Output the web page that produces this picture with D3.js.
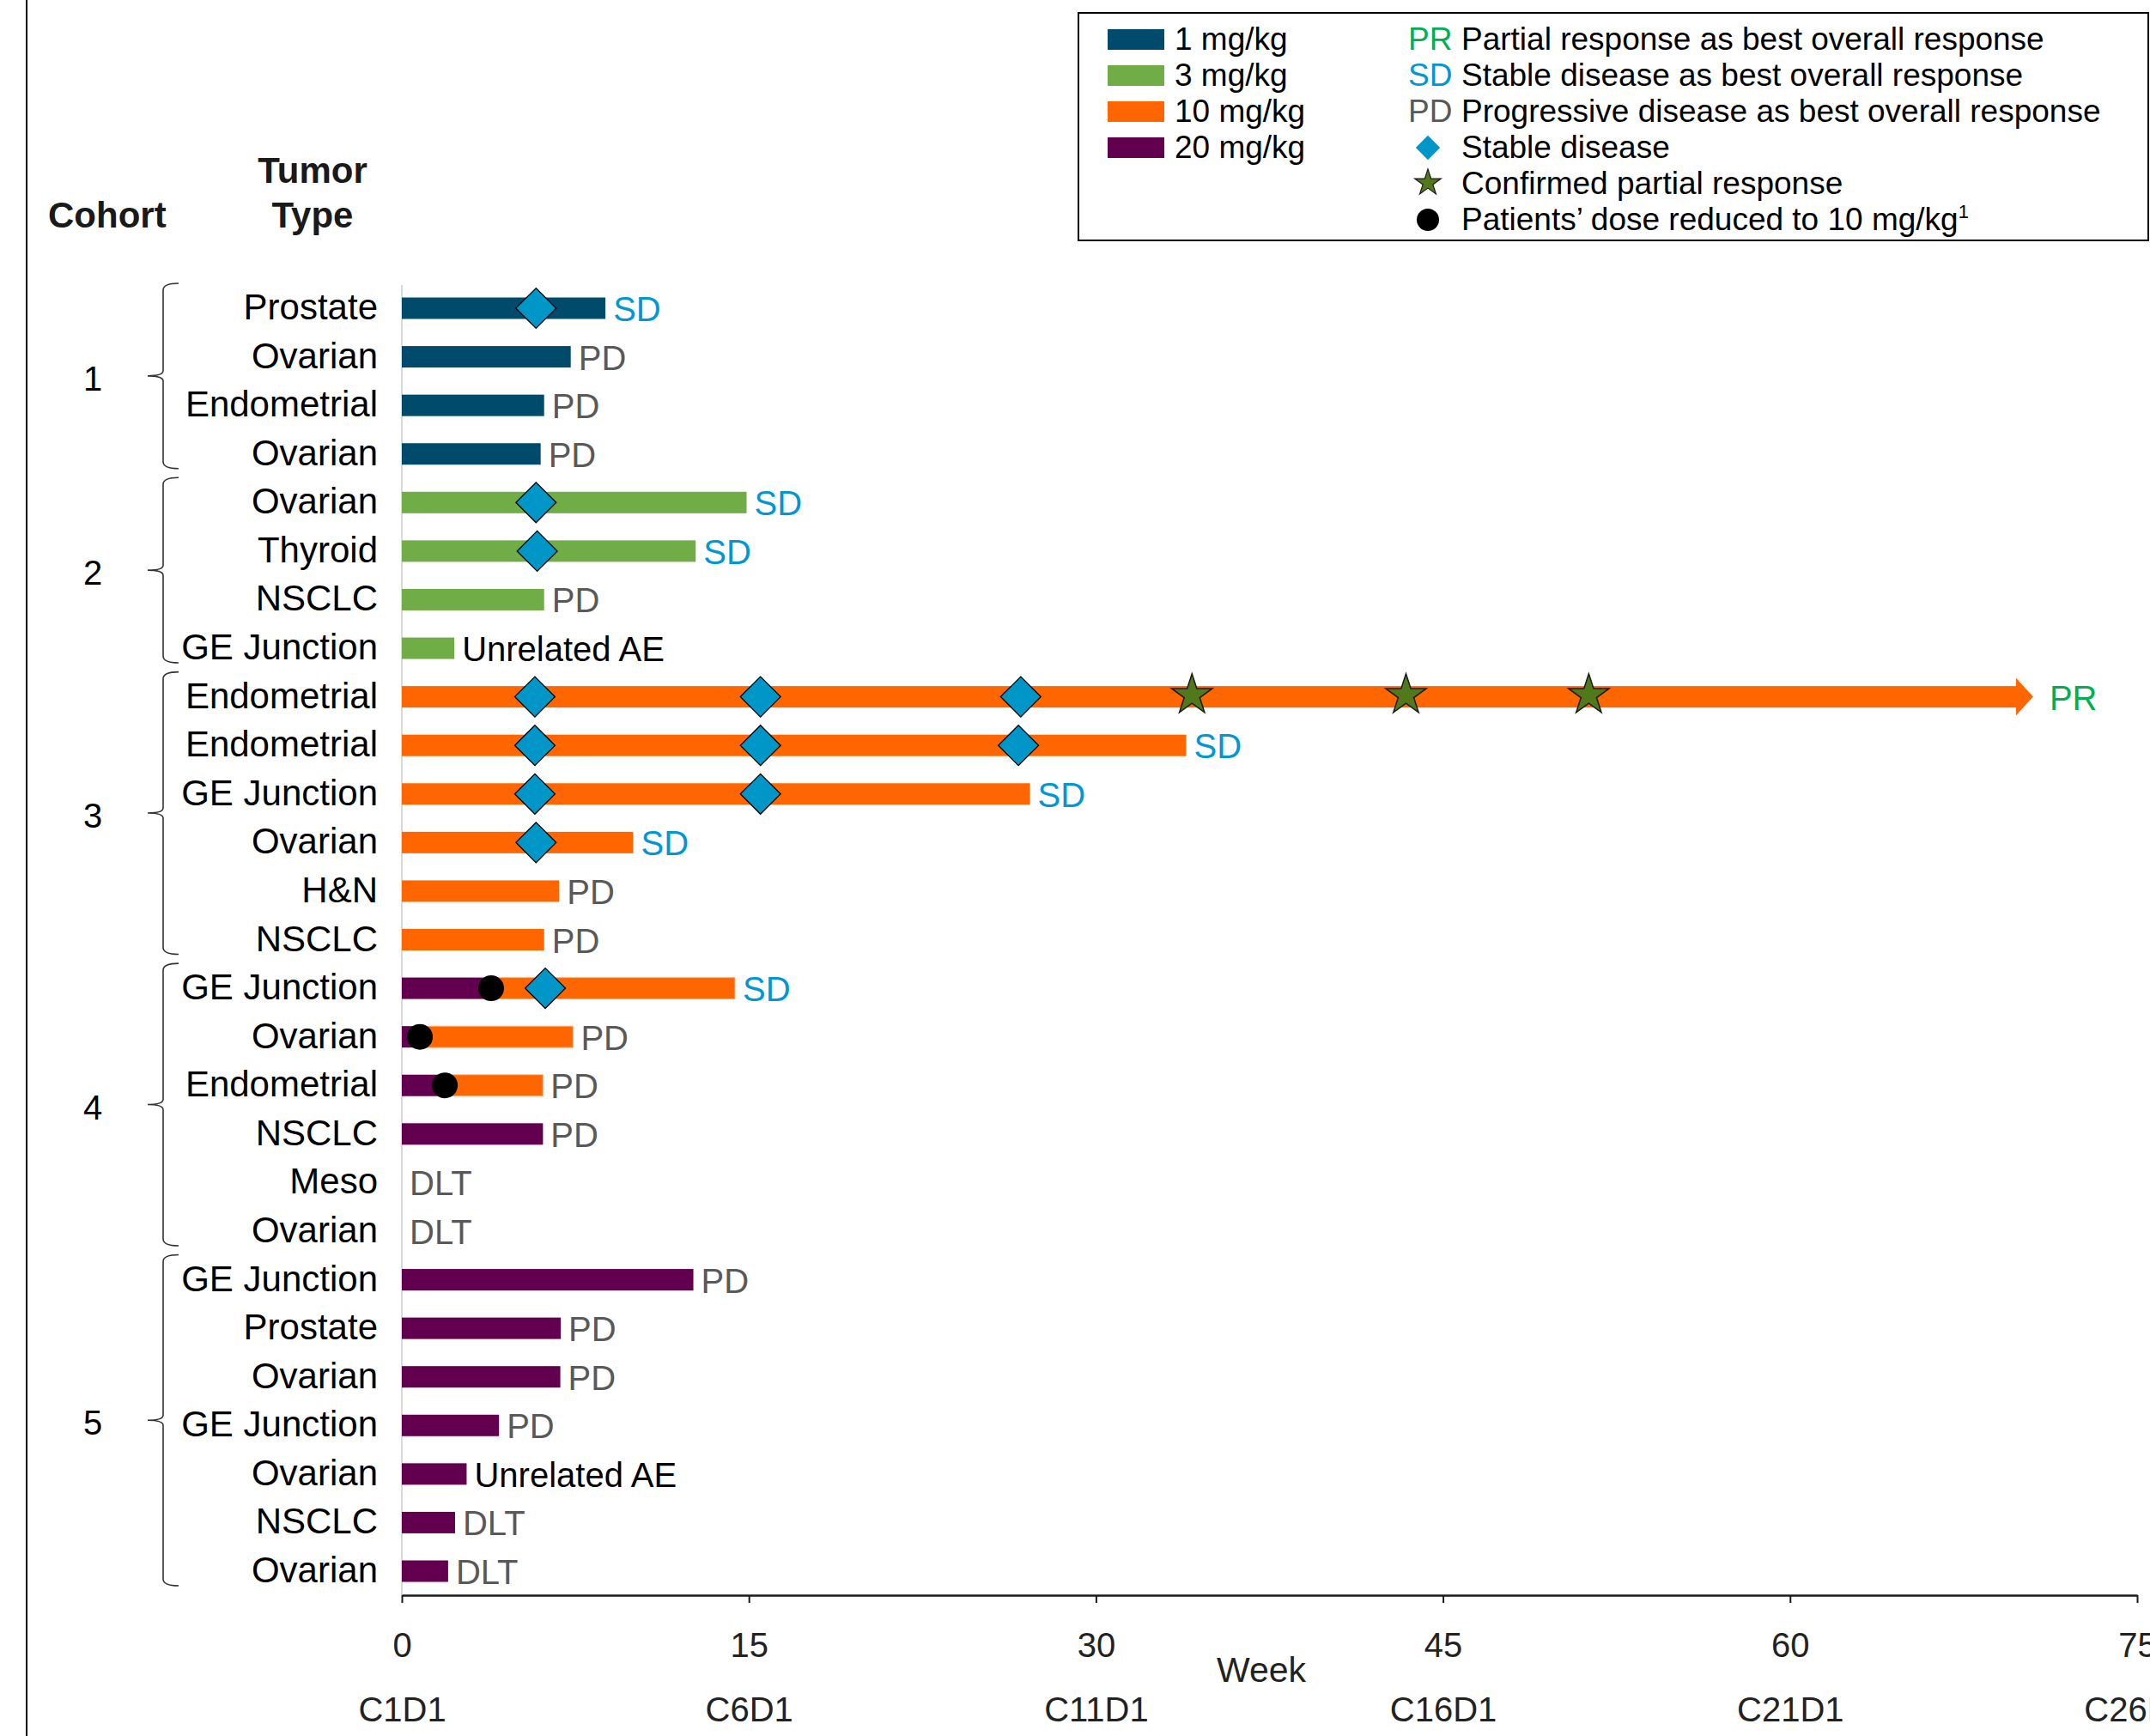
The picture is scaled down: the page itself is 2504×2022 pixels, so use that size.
<!DOCTYPE html>
<html>
<head>
<meta charset="utf-8">
<script src="https://cdn.jsdelivr.net/npm/d3@7"></script>
<style>
  body { margin: 0; background: #fff; }
  svg { display: block; font-family: "Liberation Sans", Arial, sans-serif; }
</style>
</head>
<body>
<svg id="swimmer" width="2504" height="2022"></svg>
<script>
// one entry per patient, top to bottom
const tumorTypes = ["Prostate", "Ovarian", "Endometrial", "Ovarian",
    "Ovarian", "Thyroid", "NSCLC", "GE Junction",
    "Endometrial", "Endometrial", "GE Junction", "Ovarian", "H&N", "NSCLC",
    "GE Junction", "Ovarian", "Endometrial", "NSCLC", "Meso", "Ovarian",
    "GE Junction", "Prostate", "Ovarian", "GE Junction", "Ovarian", "NSCLC", "Ovarian"];
const cohortIds = [1, 1, 1, 1, 2, 2, 2, 2, 3, 3, 3, 3, 3, 3, 4, 4, 4, 4, 4, 4, 5, 5, 5, 5, 5, 5, 5];
const startDose = ["1 mg/kg", "1 mg/kg", "1 mg/kg", "1 mg/kg",
    "3 mg/kg", "3 mg/kg", "3 mg/kg", "3 mg/kg",
    "10 mg/kg", "10 mg/kg", "10 mg/kg", "10 mg/kg", "10 mg/kg", "10 mg/kg",
    "20 mg/kg", "20 mg/kg", "20 mg/kg", "20 mg/kg", "20 mg/kg", "20 mg/kg",
    "20 mg/kg", "20 mg/kg", "20 mg/kg", "20 mg/kg", "20 mg/kg", "20 mg/kg", "20 mg/kg"];
const weeksOnTreatment = [8.8, 7.3, 6.15, 6.0,
    14.9, 12.7, 6.15, 2.27,
    69.8, 33.9, 27.15, 10.0, 6.8, 6.15,
    14.4, 7.4, 6.1, 6.1, 0, 0,
    12.6, 6.87, 6.85, 4.2, 2.8, 2.3, 2.0];
const doseReducedWeek = [null, null, null, null, null, null, null, null, null, null, null, null, null, null,
    3.86, 0.78, 1.86, null, null, null, null, null, null, null, null, null, null];
const bestResponse = ["SD", "PD", "PD", "PD",
    "SD", "SD", "PD", "Unrelated AE",
    "PR", "SD", "SD", "SD", "PD", "PD",
    "SD", "PD", "PD", "PD", "DLT", "DLT",
    "PD", "PD", "PD", "PD", "Unrelated AE", "DLT", "DLT"];
const ongoingRows = [8];

// [row, week]
const stableDiseaseEvents = [[0, 5.8], [4, 5.8], [5, 5.85],
    [8, 5.75], [8, 15.5], [8, 26.75], [9, 5.75], [9, 15.5], [9, 26.65],
    [10, 5.75], [10, 15.5], [11, 5.8], [14, 6.2]];
const partialResponseEvents = [[8, 34.15], [8, 43.4], [8, 51.3]];

const weekTicks = [0, 15, 30, 45, 60, 75];
const cycleLabels = ["C1D1", "C6D1", "C11D1", "C16D1", "C21D1", "C26D1"];

const doseLevels = ["1 mg/kg", "3 mg/kg", "10 mg/kg", "20 mg/kg"];
const doseColors = ["#004b6b", "#70ad47", "#ff6600", "#62004f"];
const responseCodes = ["PR", "SD", "PD"];
const responseNames = ["Partial response as best overall response",
    "Stable disease as best overall response",
    "Progressive disease as best overall response"];
const responseColors = {PR: "#00b050", SD: "#0097d3", PD: "#595959", DLT: "#595959", "Unrelated AE": "#000"};

const svg = d3.select("#swimmer");

const x = d3.scaleLinear().domain([0, 75]).range([468, 2489]);
const y = d3.scalePoint().domain(d3.range(tumorTypes.length)).range([359, 1830]);
const color = d3.scaleOrdinal().domain(doseLevels).range(doseColors);
const barH = 25;

const rows = tumorTypes.map((t, i) => ({
    i: i, tumor: t, cohort: cohortIds[i], dose: startDose[i], weeks: weeksOnTreatment[i],
    reduced: doseReducedWeek[i], response: bestResponse[i], ongoing: ongoingRows.includes(i)
}));

// page frame line on the left
svg.append("line").attr("x1", 31).attr("x2", 31).attr("y1", 0).attr("y2", 2022)
    .attr("stroke", "#000").attr("stroke-width", 2);

// headers
svg.append("text").attr("x", 56).attr("y", 265).attr("font-size", 42).attr("font-weight", "bold")
    .attr("fill", "#1a1a1a").text("Cohort");
svg.append("text").attr("x", 364).attr("y", 213).attr("font-size", 42).attr("font-weight", "bold")
    .attr("text-anchor", "middle").attr("fill", "#1a1a1a").text("Tumor");
svg.append("text").attr("x", 364).attr("y", 265).attr("font-size", 42).attr("font-weight", "bold")
    .attr("text-anchor", "middle").attr("fill", "#1a1a1a").text("Type");

// light vertical baseline
svg.append("line").attr("x1", x(0)).attr("x2", x(0)).attr("y1", 332).attr("y2", 1858)
    .attr("stroke", "#d9d9d9").attr("stroke-width", 2);

// x axis
const axis = svg.append("g").attr("transform", "translate(0,1858)")
    .call(d3.axisBottom(x).tickValues(weekTicks).tickSize(9).tickSizeOuter(0).tickPadding(35));
axis.select(".domain").attr("stroke", "#1a1a1a").attr("stroke-width", 2.5);
axis.selectAll(".tick line").attr("stroke", "#1a1a1a").attr("stroke-width", 2);
axis.selectAll(".tick text").attr("font-size", 40).attr("fill", "#222");
axis.attr("font-family", null);

const cycleAxis = svg.append("g").attr("transform", "translate(0,1858)")
    .call(d3.axisBottom(x).tickValues(weekTicks).tickFormat((d, i) => cycleLabels[i]).tickSize(0).tickPadding(119));
cycleAxis.select(".domain").remove();
cycleAxis.attr("font-family", null);
cycleAxis.selectAll(".tick text").attr("font-size", 40).attr("fill", "#222");

svg.append("text").attr("x", 1469).attr("y", 1959).attr("font-size", 41).attr("text-anchor", "middle")
    .attr("fill", "#222").text("Week");

// row labels
svg.append("g").selectAll("text").data(rows).join("text")
    .attr("x", 440).attr("y", d => y(d.i) + 13)
    .attr("text-anchor", "end").attr("font-size", 42).attr("fill", "#000")
    .text(d => d.tumor);

// cohort braces
const cohorts = d3.groups(rows, d => d.cohort).map(([c, rs]) => {
    const top = y(rs[0].i) - 29, bot = y(rs[rs.length - 1].i) + 17;
    return {cohort: c, top: top, bot: bot, mid: (top + bot) / 2};
});
const braceG = svg.append("g");
braceG.selectAll("path").data(cohorts).join("path")
    .attr("d", d => `M208,${d.top} Q190,${d.top} 190,${d.top + 8} L190,${d.mid - 6} Q190,${d.mid} 172,${d.mid}`
        + ` Q190,${d.mid} 190,${d.mid + 6} L190,${d.bot - 8} Q190,${d.bot} 208,${d.bot}`)
    .attr("fill", "none").attr("stroke", "#333").attr("stroke-width", 1.6);
braceG.selectAll("text").data(cohorts).join("text")
    .attr("x", 108).attr("y", d => d.mid + 17).attr("text-anchor", "middle")
    .attr("font-size", 40).attr("fill", "#000").text(d => d.cohort);

// bars
const barG = svg.append("g");
barG.selectAll("rect.start").data(rows.filter(d => d.weeks > 0)).join("rect")
    .attr("class", "start")
    .attr("x", x(0)).attr("y", d => y(d.i) - barH / 2)
    .attr("width", d => x(d.reduced != null ? d.reduced : d.weeks) - x(0))
    .attr("height", barH)
    .attr("fill", d => color(d.dose));
barG.selectAll("rect.reduced").data(rows.filter(d => d.reduced != null)).join("rect")
    .attr("class", "reduced")
    .attr("x", d => x(d.reduced)).attr("y", d => y(d.i) - barH / 2)
    .attr("width", d => x(d.weeks) - x(d.reduced))
    .attr("height", barH)
    .attr("fill", color("10 mg/kg")).attr("stroke", "#ffb98a").attr("stroke-width", 1);
barG.selectAll("path.arrow").data(rows.filter(d => d.ongoing)).join("path")
    .attr("class", "arrow")
    .attr("d", d => `M${x(d.weeks) - 1},${y(d.i) - 22} L${x(d.weeks) + 19},${y(d.i)} L${x(d.weeks) - 1},${y(d.i) + 22} Z`)
    .attr("fill", d => color(d.dose));

// markers
const markG = svg.append("g");
markG.selectAll("path.sd").data(stableDiseaseEvents).join("path")
    .attr("class", "sd")
    .attr("d", d3.symbol(d3.symbolSquare, 1100))
    .attr("transform", d => `translate(${x(d[1])},${y(d[0])}) rotate(45)`)
    .attr("fill", "#0096c8").attr("stroke", "#000").attr("stroke-width", 1.3);
markG.selectAll("path.pr").data(partialResponseEvents).join("path")
    .attr("class", "pr")
    .attr("d", d3.symbol(d3.symbolStar, 700))
    .attr("transform", d => `translate(${x(d[1])},${y(d[0]) - 2})`)
    .attr("fill", "#52781c").attr("stroke", "#1a1a1a").attr("stroke-width", 1.5);
markG.selectAll("circle").data(rows.filter(d => d.reduced != null)).join("circle")
    .attr("cx", d => x(d.reduced)).attr("cy", d => y(d.i)).attr("r", 15)
    .attr("fill", "#000");

// response labels
svg.append("g").selectAll("text").data(rows).join("text")
    .attr("x", d => x(d.weeks) + (d.ongoing ? 38 : 9))
    .attr("y", d => y(d.i) + 15)
    .attr("font-size", 40)
    .attr("fill", d => responseColors[d.response])
    .text(d => d.response);

// legend
const legend = svg.append("g");
legend.append("rect").attr("x", 1256).attr("y", 15).attr("width", 1246).attr("height", 265)
    .attr("fill", "#fff").attr("stroke", "#000").attr("stroke-width", 2);
const legRow = k => 46 + k * 42;

legend.selectAll("rect.sw").data(doseLevels).join("rect")
    .attr("class", "sw")
    .attr("x", 1290).attr("y", (d, k) => legRow(k) - 12).attr("width", 66).attr("height", 24)
    .attr("fill", d => color(d));
legend.selectAll("text.dose").data(doseLevels).join("text")
    .attr("class", "dose")
    .attr("x", 1368).attr("y", (d, k) => legRow(k) + 12)
    .attr("font-size", 37).attr("fill", "#000").text(d => d);

legend.selectAll("text.code").data(responseCodes).join("text")
    .attr("class", "code")
    .attr("x", 1640).attr("y", (d, k) => legRow(k) + 12)
    .attr("font-size", 37).attr("fill", d => responseColors[d]).text(d => d);
legend.selectAll("text.rname").data(responseNames).join("text")
    .attr("class", "rname")
    .attr("x", 1702).attr("y", (d, k) => legRow(k) + 12)
    .attr("font-size", 37).attr("fill", "#000").text(d => d);

legend.append("path").attr("d", d3.symbol(d3.symbolSquare, 400))
    .attr("transform", `translate(1663,${legRow(3)}) rotate(45)`).attr("fill", "#0096c8");
legend.append("path").attr("d", d3.symbol(d3.symbolStar, 290))
    .attr("transform", `translate(1663,${legRow(4) - 1})`)
    .attr("fill", "#52781c").attr("stroke", "#1a1a1a").attr("stroke-width", 1.2);
legend.append("circle").attr("cx", 1663).attr("cy", legRow(5)).attr("r", 13).attr("fill", "#000");

legend.append("text").attr("x", 1702).attr("y", legRow(3) + 12).attr("font-size", 37).text("Stable disease");
legend.append("text").attr("x", 1702).attr("y", legRow(4) + 12).attr("font-size", 37).text("Confirmed partial response");
const doseNote = legend.append("text").attr("x", 1702).attr("y", legRow(5) + 12).attr("font-size", 37);
doseNote.append("tspan").text("Patients\u2019 dose reduced to 10 mg/kg");
doseNote.append("tspan").attr("font-size", 22).attr("dy", -14).text("1");
</script>
</body>
</html>
